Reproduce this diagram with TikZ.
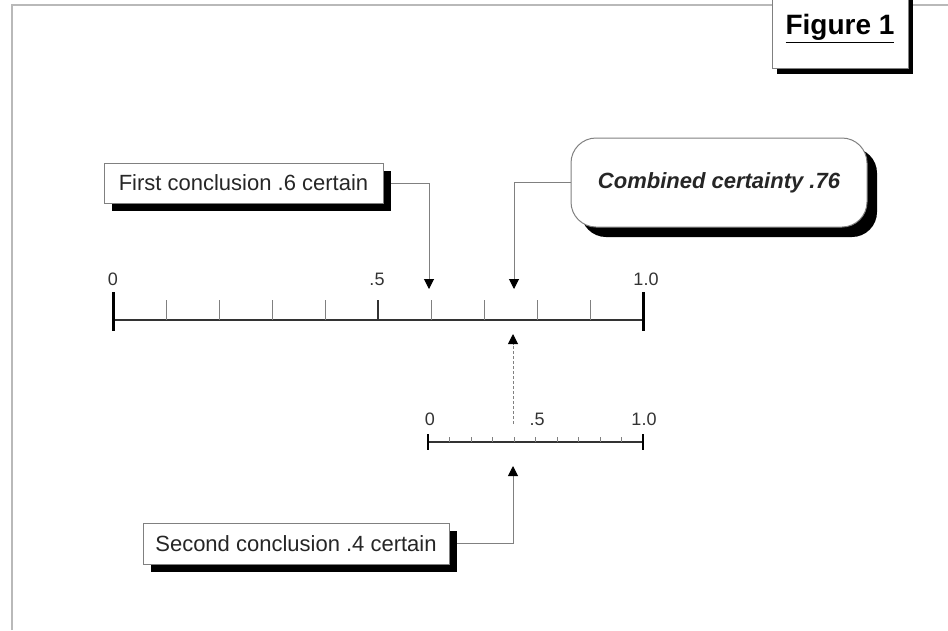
\documentclass[tikz,border=0pt]{standalone}
\usepackage{fontspec}
\setmainfont{Liberation Sans}
\usetikzlibrary{arrows.meta,shadows}
\pgfdeclarelayer{back}
\pgfsetlayers{back,main}

\tikzset{
    shadowbox/.style={draw=gray, line width=1pt, fill=white, inner sep=0pt, text=black!85,
        font=\fontsize{22}{26}\selectfont,
        drop shadow={shadow xshift=#1, shadow yshift=-#1, fill=black, opacity=1}},
    shadowbox/.default=8pt,
    ticklabel/.style={inner sep=0pt, text=black!80, font=\fontsize{18}{20}\selectfont},
    minortick/.style={gray, line width=1pt},
    endtick/.style={black, line width=3pt},
    conn/.style={draw=gray, line width=1pt, -{Triangle[length=10pt,width=10pt,color=black]}},
}

\begin{document}
\begin{tikzpicture}[x=1pt, y=-1pt]
        \useasboundingbox (0,0) rectangle (948,630);
        \draw [gray!55, line width=2pt] (12,630) -- (12,5) -- (948,5);

        \node [shadowbox=5pt, anchor=north, minimum width=136pt, text height=40pt, text depth=30pt,
            inner ysep=4pt, text=black, font=\fontsize{28}{30}\selectfont\bfseries] (fig) at (840,-10) {\underline{Figure 1}};

        \node [shadowbox, minimum width=279pt, minimum height=40pt] (first) at (243.5,183) {First conclusion .6 certain};
        \node [shadowbox=10pt, rounded corners=25pt, minimum width=296pt, minimum height=89pt,
            font=\fontsize{22}{26}\selectfont\bfseries\itshape] (combined) at (719,182.5) {Combined certainty .76};
        \node [shadowbox, minimum width=306pt, minimum height=41pt] (second) at (296,543.5) {Second conclusion .4 certain};

        \draw [black!80, line width=2pt] (113,320) -- (643,320);
        \foreach \i in {1,...,9}
            \draw [minortick] (113+53*\i,300) -- (113+53*\i,320);
        \draw [black!80, line width=2pt] (378,300) -- (378,320);
        \draw [endtick] (113,292) -- (113,331);
        \draw [endtick] (643,292) -- (643,331);
        \node [ticklabel] (azero) at (113,279) {0};
        \node [ticklabel] (ahalf) at (377,279) {.5};
        \node [ticklabel] (aone) at (646,279) {1.0};

        \draw [black!80, line width=1.5pt] (428,442) -- (643,442);
        \foreach \i in {1,...,9}
            \draw [minortick] (428+21.5*\i,437) -- (428+21.5*\i,442);
        \draw [endtick, line width=2.5pt] (428,434) -- (428,450);
        \draw [endtick, line width=2.5pt] (643,434) -- (643,450);
        \node [ticklabel] (bzero) at (430,419) {0};
        \node [ticklabel] (bhalf) at (537,419) {.5};
        \node [ticklabel] (bone) at (644,419) {1.0};

        \coordinate (tipfirst) at (429,289);
        \coordinate (tipcomb) at (514,289);
        \coordinate (tipsecond) at (513,466);
        \coordinate (dashfoot) at (513,424);
        \coordinate (dashtip) at (513,334);

        \begin{pgfonlayer}{back}
            \draw [conn] (first.east) -| (tipfirst);
            \draw [conn] (combined.west) -| (tipcomb);
            \draw [conn] (second.east) -| (tipsecond);
            \draw [conn, dash pattern=on 3pt off 2pt] (dashfoot) -- (dashtip);
        \end{pgfonlayer}
    \end{tikzpicture}
\end{document}
